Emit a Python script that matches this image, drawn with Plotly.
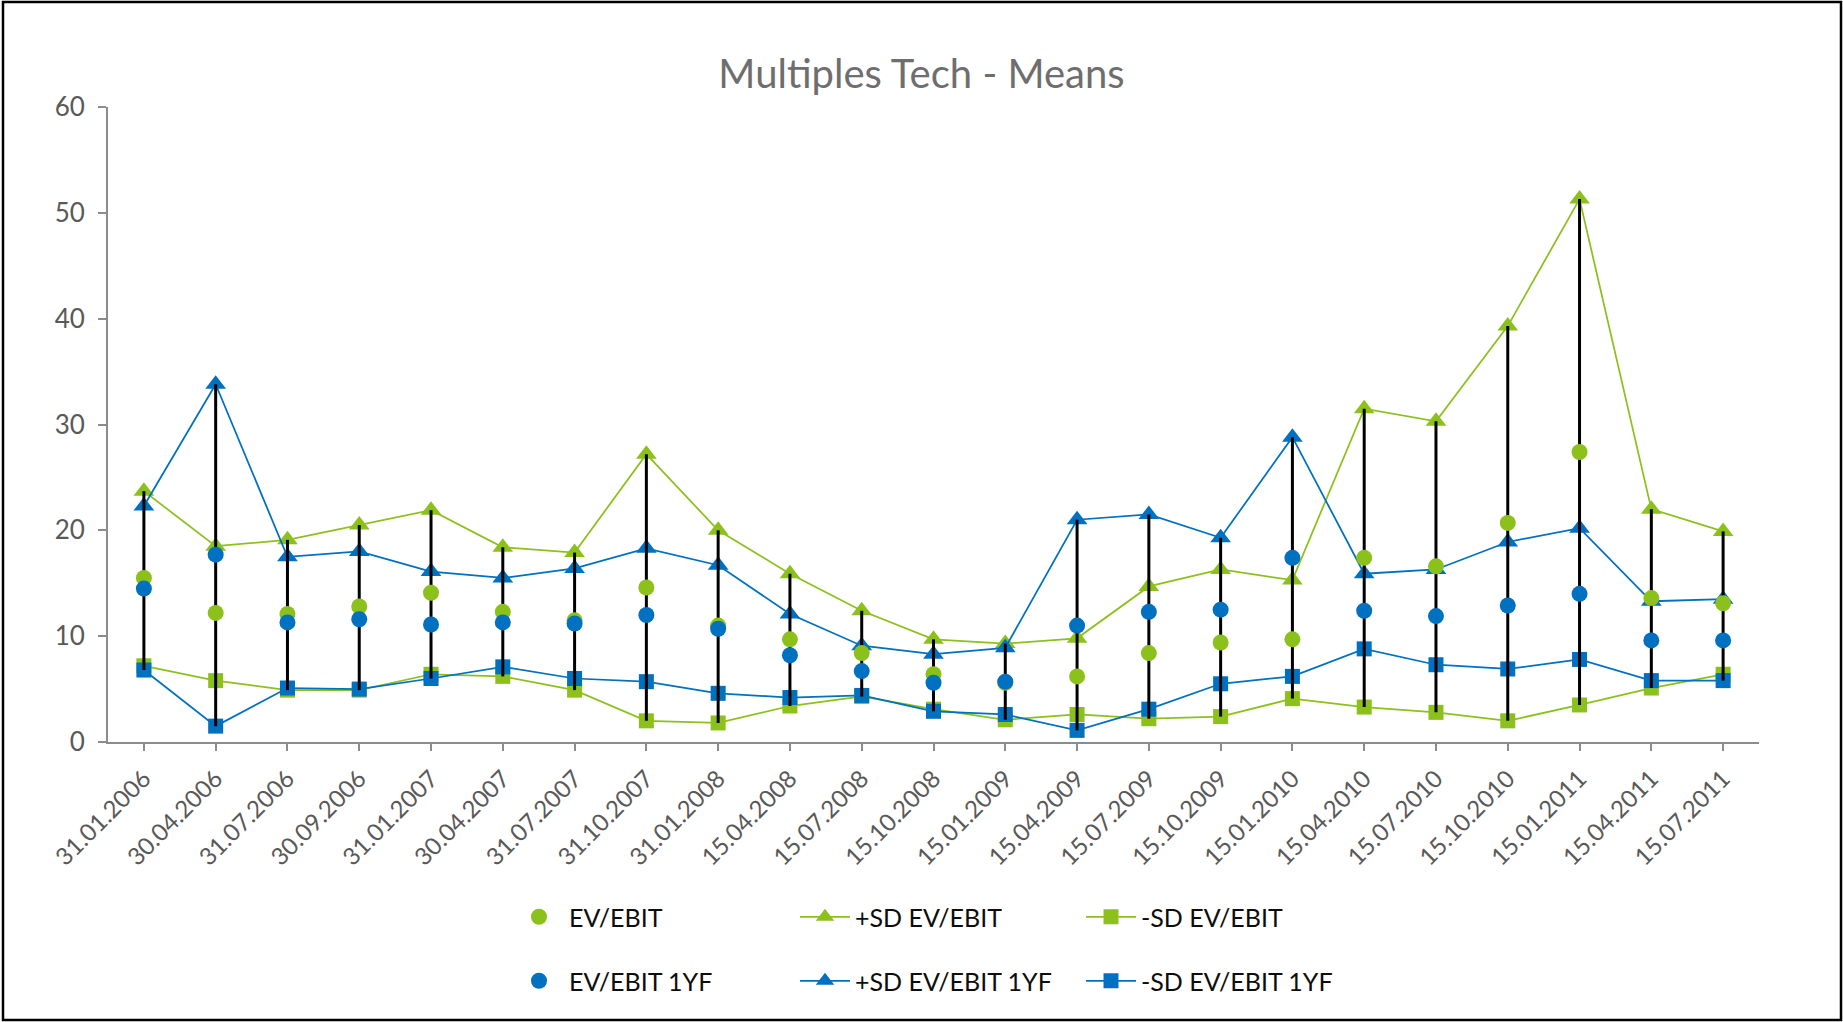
import plotly.graph_objects as go

# ---------------- data ----------------
dates = ["31.01.2006", "30.04.2006", "31.07.2006", "30.09.2006", "31.01.2007",
         "30.04.2007", "31.07.2007", "31.10.2007", "31.01.2008", "15.04.2008",
         "15.07.2008", "15.10.2008", "15.01.2009", "15.04.2009", "15.07.2009",
         "15.10.2009", "15.01.2010", "15.04.2010", "15.07.2010", "15.10.2010",
         "15.01.2011", "15.04.2011", "15.07.2011"]

ev_ebit = [15.5, 12.2, 12.1, 12.8, 14.1, 12.3, 11.5, 14.6, 11.0, 9.7, 8.4, 6.4,
           5.6, 6.2, 8.4, 9.4, 9.7, 17.4, 16.6, 20.7, 27.4, 13.6, 13.1]
sd_plus_ev_ebit = [23.7, 18.5, 19.1, 20.5, 21.9, 18.4, 17.9, 27.2, 20.0, 15.9, 12.4, 9.7,
                   9.3, 9.8, 14.7, 16.3, 15.3, 31.5, 30.3, 39.3, 51.3, 22.0, 19.9]
sd_minus_ev_ebit = [7.2, 5.8, 4.9, 4.9, 6.4, 6.2, 4.9, 2.0, 1.8, 3.4, 4.3, 3.1,
                    2.1, 2.6, 2.2, 2.4, 4.1, 3.3, 2.8, 2.0, 3.5, 5.1, 6.4]

ev_ebit_1yf = [14.5, 17.7, 11.3, 11.6, 11.1, 11.3, 11.2, 12.0, 10.7, 8.2, 6.7, 5.6,
               5.7, 11.0, 12.3, 12.5, 17.4, 12.4, 11.9, 12.9, 14.0, 9.6, 9.6]
sd_plus_ev_ebit_1yf = [22.3, 33.8, 17.5, 18.0, 16.1, 15.5, 16.4, 18.3, 16.7, 12.1, 9.1, 8.3,
                       8.9, 21.0, 21.5, 19.3, 28.8, 15.9, 16.3, 18.9, 20.2, 13.3, 13.5]
sd_minus_ev_ebit_1yf = [6.8, 1.5, 5.1, 5.0, 6.0, 7.1, 6.0, 5.7, 4.6, 4.2, 4.4, 2.9,
                        2.6, 1.1, 3.1, 5.5, 6.2, 8.8, 7.3, 6.9, 7.8, 5.8, 5.8]

y_ticks = [0, 10, 20, 30, 40, 50, 60]

# ---------------- style ----------------
GREEN = "#8CC11C"
BLUE = "#0070C0"
GREY_TXT = "#595959"
AXIS = "#8C8C8C"
FONT = "Lato"

W, H = 1843, 1022
L, R, T, B = 108, 84, 107, 280
PW, PH = W - L - R, H - T - B


def pxx(px):
    return (px - L) / PW


def pxy(py):
    return (H - B - py) / PH


fig = go.Figure()

# SD lines (green first, blue on top)
fig.add_trace(go.Scatter(x=dates, y=sd_plus_ev_ebit, name="+SD EV/EBIT", mode="lines+markers",
                         line=dict(color=GREEN, width=1.75),
                         marker=dict(symbol="triangle-up", size=18, color=GREEN),
                         legend="legend", legendrank=2))
fig.add_trace(go.Scatter(x=dates, y=sd_minus_ev_ebit, name="-SD EV/EBIT", mode="lines+markers",
                         line=dict(color=GREEN, width=1.75),
                         marker=dict(symbol="square", size=15, color=GREEN),
                         legend="legend", legendrank=3))
fig.add_trace(go.Scatter(x=dates, y=sd_plus_ev_ebit_1yf, name="+SD EV/EBIT 1YF", mode="lines+markers",
                         line=dict(color=BLUE, width=1.75),
                         marker=dict(symbol="triangle-up", size=18, color=BLUE),
                         legend="legend2", legendrank=2))
fig.add_trace(go.Scatter(x=dates, y=sd_minus_ev_ebit_1yf, name="-SD EV/EBIT 1YF", mode="lines+markers",
                         line=dict(color=BLUE, width=1.75),
                         marker=dict(symbol="square", size=15, color=BLUE),
                         legend="legend2", legendrank=3))

# high-low lines
series = [ev_ebit, sd_plus_ev_ebit, sd_minus_ev_ebit,
          ev_ebit_1yf, sd_plus_ev_ebit_1yf, sd_minus_ev_ebit_1yf]
hl_x, hl_y = [], []
for i, d in enumerate(dates):
    vals = [s[i] for s in series]
    hl_x += [d, d, None]
    hl_y += [max(vals), min(vals), None]
fig.add_trace(go.Scatter(x=hl_x, y=hl_y, mode="lines", line=dict(color="black", width=3),
                         showlegend=False, hoverinfo="skip"))

# means (circles on top)
fig.add_trace(go.Scatter(x=dates, y=ev_ebit, name="EV/EBIT", mode="markers",
                         marker=dict(symbol="circle", size=16, color=GREEN),
                         legend="legend", legendrank=1))
fig.add_trace(go.Scatter(x=dates, y=ev_ebit_1yf, name="EV/EBIT 1YF", mode="markers",
                         marker=dict(symbol="circle", size=16, color=BLUE),
                         legend="legend2", legendrank=1))

leg_common = dict(orientation="h", xanchor="left", yanchor="middle",
                  font=dict(family=FONT, size=25, color="#0D0D0D"),
                  bgcolor="rgba(0,0,0,0)", entrywidth=221, entrywidthmode="pixels",
                  traceorder="normal", itemwidth=50)

fig.update_layout(
    width=W, height=H,
    margin=dict(l=L, r=R, t=T, b=B, autoexpand=False),
    paper_bgcolor="white", plot_bgcolor="white",
    font=dict(family=FONT, color=GREY_TXT),
    title=dict(text="Multiples Tech - Means", x=0.5, xanchor="center",
               y=1 - 74 / H, yanchor="middle",
               font=dict(family=FONT, size=40, color="#6E6E6E")),
    xaxis=dict(type="category", range=[-0.5, len(dates) - 0.5],
               showline=True, linecolor=AXIS, linewidth=2,
               ticks="outside", ticklen=7, tickwidth=2, tickcolor=AXIS,
               tickangle=-45, ticklabelstandoff=4,
               tickfont=dict(family=FONT, size=24, color=GREY_TXT),
               showgrid=False, zeroline=False, fixedrange=True),
    yaxis=dict(range=[0, 60], tickvals=y_ticks,
               showline=True, linecolor=AXIS, linewidth=2,
               ticks="outside", ticklen=8, tickwidth=2, tickcolor=AXIS,
               ticklabelstandoff=8,
               tickfont=dict(family=FONT, size=26, color=GREY_TXT),
               showgrid=False, zeroline=False),
    legend=dict(x=pxx(509), y=pxy(917), **leg_common),
    legend2=dict(x=pxx(509), y=pxy(981), **leg_common),
    shapes=[dict(type="rect", xref="paper", yref="paper",
                 x0=pxx(3), x1=pxx(1841), y0=pxy(1020), y1=pxy(2),
                 line=dict(color="black", width=2.5), fillcolor="rgba(0,0,0,0)",
                 layer="above")],
)

fig.write_html("out.html", config={"displayModeBar": False},
               post_script="document.body.style.margin='0px';document.body.style.overflow='hidden';")
